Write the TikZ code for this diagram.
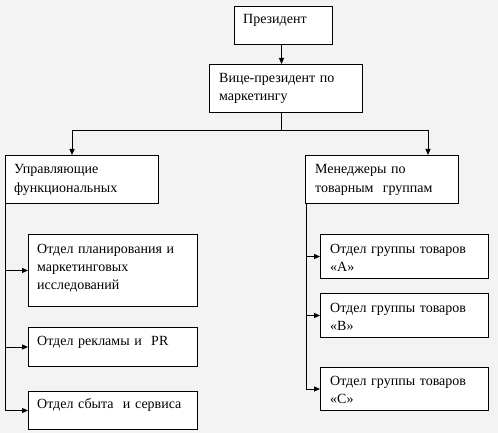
\documentclass[tikz,border=0pt]{standalone}
\usepackage{fontspec}
\setmainfont{Liberation Serif}
\usetikzlibrary{arrows.meta}
\definecolor{bg}{HTML}{F3F3F3}
\tikzset{
  box/.style={draw=black, line width=1pt, fill=white, rectangle, inner sep=0pt, anchor=north west},
  txt/.style={inner sep=0pt, anchor=base west, text width=170pt, align=left, font=\fontsize{14}{18}\selectfont},
  conn/.style={line width=1pt},
  arr/.style={line width=1pt, -{Triangle[length=6pt,width=5pt]}}
}
\begin{document}
\begin{tikzpicture}[x=1pt,y=-1pt]
\fill[bg] (0,0) rectangle (498,433);
\useasboundingbox (0,0) rectangle (498,433);
% boxes
\node[box, minimum width=98pt, minimum height=38pt] (pres) at (234,6) {};
\node[box, minimum width=153pt, minimum height=48pt] (vp) at (209,64) {};
\node[box, minimum width=153pt, minimum height=48pt] (left) at (5,155) {};
\node[box, minimum width=153pt, minimum height=48pt] (right) at (305,155) {};
\node[box, minimum width=169pt, minimum height=72pt] (d1) at (28,234) {};
\node[box, minimum width=169pt, minimum height=39pt] (d2) at (28,327) {};
\node[box, minimum width=169pt, minimum height=38pt] (d3) at (28,391) {};
\node[box, minimum width=168pt, minimum height=44pt] (ga) at (320,234) {};
\node[box, minimum width=168pt, minimum height=44pt] (gb) at (320,293) {};
\node[box, minimum width=168pt, minimum height=43pt] (gc) at (320,367) {};
% texts
\node[txt] (tpres) at ([xshift=9pt,yshift=-18pt]pres.north west) {Президент};
\node[txt] (tvp) at ([xshift=10pt,yshift=-19pt]vp.north west) {Вице-президент по\\маркетингу};
\node[txt] (tleft) at ([xshift=9pt,yshift=-19pt]left.north west) {Управляющие\\функциональных};
\node[txt] (tright) at ([xshift=10pt,yshift=-19pt]right.north west) {Менеджеры по\\товарным\ \ группам};
\node[txt] (td1) at ([xshift=9pt,yshift=-19pt]d1.north west) {Отдел планирования и\\маркетинговых\\исследований};
\node[txt] (td2) at ([xshift=9pt,yshift=-18pt]d2.north west) {Отдел рекламы и\ \ PR};
\node[txt] (td3) at ([xshift=9pt,yshift=-17pt]d3.north west) {Отдел сбыта\ \ и сервиса};
\node[txt] (tga) at ([xshift=10pt,yshift=-19pt]ga.north west) {Отдел группы товаров\\«A»};
\node[txt] (tgb) at ([xshift=10pt,yshift=-19pt]gb.north west) {Отдел группы товаров\\«B»};
\node[txt] (tgc) at ([xshift=10pt,yshift=-18pt]gc.north west) {Отдел группы товаров\\«C»};
% connectors
\coordinate (pbot) at ([xshift=-2pt]pres.south);
\draw[arr] (pbot) -- (pbot |- vp.north);
\coordinate (bus) at ([yshift=-18pt]pbot |- vp.south);
\draw[conn] (pbot |- vp.south) -- (bus);
\draw[arr] (bus) -| ([xshift=67pt]left.north west);
\draw[arr] (bus) -| ([xshift=123pt]right.north west);
\draw[arr] (left.south west) |- (d1.west);
\draw[arr] (left.south west) |- (d2.west);
\draw[arr] (left.south west) |- (d3.west);
\draw[arr] ([xshift=1pt]right.south west) |- (ga.west);
\draw[arr] ([xshift=1pt]right.south west) |- (gb.west);
\draw[arr] ([xshift=1pt]right.south west) |- (gc.west);
\end{tikzpicture}
\end{document}
